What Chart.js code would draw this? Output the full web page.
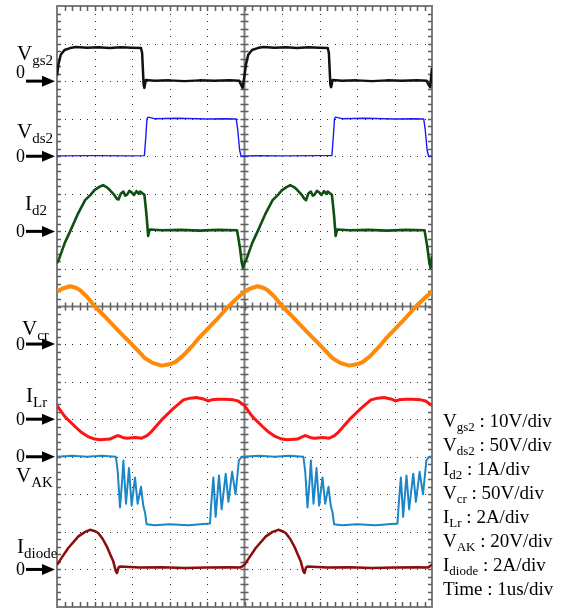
<!DOCTYPE html>
<html>
<head>
<meta charset="utf-8">
<script src="https://cdn.jsdelivr.net/npm/chart.js@4"></script>
<style>
html, body { margin: 0; padding: 0; background: #fff; }
</style>
</head>
<body>
<canvas id="scope" width="568" height="610"></canvas>
<script>
// captured waveforms: [time (us), value in channel unit]
const vgs2 = [[0,1.5],[0.04,4.5],[0.1,7],[0.2,8.3],[0.35,8.8],[0.5,9.1],[0.8,8.9],[1.1,9.0],[1.4,8.8],[1.7,9.0],[2.0,8.9],[2.24,8.8],[2.27,7.5],[2.31,-1.0],[2.33,-1.8],[2.37,0.3],[2.6,0.1],[3.0,0.2],[3.4,0.0],[3.8,0.2],[4.2,0.1],[4.6,0.2],[4.86,0.1],[4.9,-0.8],[4.95,-1.8],
  [5.0,1.5],[5.04,4.5],[5.1,7],[5.2,8.3],[5.35,8.8],[5.5,9.1],[5.8,8.9],[6.1,9.0],[6.4,8.8],[6.7,9.0],[7.0,8.9],[7.22,8.8],[7.25,7.5],[7.29,-1.0],[7.31,-1.6],[7.35,0.3],[7.6,0.1],[8.0,0.2],[8.4,0.0],[8.8,0.2],[9.2,0.1],[9.6,0.2],[9.86,0.1],[9.9,-0.8],[9.95,-1.6],[10.0,3.5]];

const vds2 = [[0,0.5],[1.0,0.8],[2.0,0.5],[2.33,0.8],[2.36,20],[2.40,50],[2.43,52],[2.6,50],[3.2,50.5],[4.0,49.5],[4.5,50],[4.78,49.5],[4.82,35],[4.87,8],[4.91,0],
  [5.3,0.8],[6.0,0.5],[7.0,0.8],[7.33,0.8],[7.36,20],[7.40,50],[7.43,52],[7.6,50],[8.2,50.5],[9.0,49.5],[9.5,50],[9.78,49.5],[9.82,35],[9.87,8],[9.91,0],[10,0]];

const id2 = [[0,-0.85],[0.06,-0.72],[0.21,-0.3],[0.35,0],[0.55,0.45],[0.75,0.83],[0.9,0.98],[1.0,1.1],[1.12,1.18],[1.23,1.23],[1.32,1.18],[1.41,1.1],[1.52,0.98],[1.6,0.86],[1.64,0.85],[1.7,1.0],[1.77,1.06],[1.82,0.95],[1.87,0.98],[1.93,1.08],[1.99,1.04],[2.05,0.97],[2.12,1.07],[2.18,1.0],[2.22,1.06],[2.28,1.01],[2.33,0.98],[2.36,0.7],[2.39,0.4],[2.43,-0.12],[2.47,0.05],[2.8,0.03],[3.3,0.04],[3.8,0.02],[4.3,0.04],[4.8,0.03],[4.84,-0.2],[4.88,-0.45],[4.93,-0.85],[4.96,-0.97],
  [5.0,-0.85],[5.06,-0.72],[5.21,-0.3],[5.35,0],[5.55,0.45],[5.75,0.83],[5.9,0.98],[6.0,1.1],[6.12,1.18],[6.22,1.23],[6.32,1.18],[6.41,1.1],[6.52,0.98],[6.6,0.86],[6.64,0.83],[6.7,1.0],[6.77,1.06],[6.82,0.95],[6.87,0.98],[6.93,1.08],[6.99,1.04],[7.05,0.97],[7.12,1.07],[7.18,1.0],[7.22,1.06],[7.28,1.01],[7.33,0.98],[7.36,0.7],[7.39,0.4],[7.43,-0.12],[7.47,0.05],[7.8,0.03],[8.3,0.04],[8.8,0.02],[9.3,0.04],[9.8,0.03],[9.84,-0.2],[9.88,-0.45],[9.93,-0.85],[9.96,-0.97],[10,-0.65]];

const vcr = [[0,70],[0.15,74],[0.35,77],[0.5,75],[0.61,72],[0.8,63],[1.01,50],[1.25,38],[1.5,25],[1.75,12],[1.99,0],[2.2,-11],[2.35,-19],[2.55,-25],[2.79,-28.7],[3.0,-27],[3.15,-24],[3.35,-16],[3.59,-3.5],[3.8,9],[4.03,21],[4.3,35],[4.57,50],[4.8,61],
  [5.0,70],[5.15,74],[5.35,77],[5.5,75],[5.61,72],[5.8,63],[6.01,50],[6.25,38],[6.5,25],[6.75,12],[6.99,0],[7.2,-11],[7.35,-19],[7.55,-25],[7.79,-28.7],[8.0,-27],[8.15,-24],[8.35,-16],[8.59,-3.5],[8.8,9],[9.03,21],[9.3,35],[9.57,50],[9.8,61],[10,70]];

const ilr = [[0,0.72],[0.21,0.14],[0.48,-0.39],[0.65,-0.7],[0.83,-0.93],[1.0,-1.06],[1.15,-1.1],[1.41,-1.06],[1.55,-0.93],[1.63,-0.87],[1.75,-0.97],[1.86,-1.01],[2.1,-0.98],[2.26,-1.01],[2.4,-0.88],[2.52,-0.66],[2.79,-0.04],[3.06,0.49],[3.37,1.03],[3.55,1.12],[3.72,1.15],[3.9,1.08],[4.03,0.97],[4.12,1.03],[4.3,1.06],[4.48,1.06],[4.7,1.03],[4.83,0.97],
  [5.0,0.72],[5.21,0.14],[5.48,-0.39],[5.65,-0.7],[5.83,-0.93],[6.0,-1.06],[6.15,-1.1],[6.41,-1.06],[6.55,-0.93],[6.63,-0.87],[6.75,-0.97],[6.86,-1.01],[7.1,-0.98],[7.26,-1.01],[7.4,-0.88],[7.52,-0.66],[7.79,-0.04],[8.06,0.49],[8.37,1.03],[8.55,1.12],[8.72,1.15],[8.9,1.08],[9.03,0.97],[9.12,1.03],[9.3,1.06],[9.48,1.06],[9.7,1.03],[9.83,0.97],[10,0.72]];

const vak = [[0,0],[0.4,0.5],[0.8,0],[1.2,0.5],[1.57,0],[1.62,-8],[1.68,-27],[1.74,-12],[1.77,-2],[1.84,-25],[1.92,-6],[1.99,-26],[2.08,-11],[2.15,-25],[2.24,-16],[2.30,-26],[2.35,-30],[2.39,-36],[2.6,-36.5],[3.0,-36],[3.5,-36.5],[4.08,-35.5],[4.11,-26],[4.17,-11],[4.23,-32],[4.32,-10],[4.39,-28],[4.50,-9],[4.57,-24],[4.67,-8],[4.76,-20],[4.85,-2],[4.92,0],
  [5.4,0.5],[5.8,0],[6.2,0.5],[6.57,0],[6.62,-8],[6.68,-27],[6.74,-12],[6.77,-2],[6.84,-25],[6.92,-6],[6.99,-26],[7.08,-11],[7.15,-25],[7.24,-16],[7.30,-26],[7.35,-30],[7.39,-36],[7.6,-36.5],[8.0,-36],[8.5,-36.5],[9.08,-35.5],[9.11,-26],[9.17,-11],[9.23,-32],[9.32,-10],[9.39,-28],[9.50,-9],[9.57,-24],[9.67,-8],[9.76,-20],[9.85,-2],[9.92,0],[10,0]];

const idiode = [[0,0.25],[0.1,0.55],[0.3,1.14],[0.57,1.76],[0.75,2.0],[0.88,2.11],[1.0,2.05],[1.1,1.94],[1.22,1.62],[1.33,1.22],[1.42,0.8],[1.5,0.43],[1.57,-0.1],[1.6,-0.19],[1.64,0.1],[1.68,0.16],[2.2,0.1],[2.8,0.12],[3.4,0.08],[4.0,0.1],[4.6,0.12],[4.88,0.1],[4.95,0.18],
  [5.0,0.25],[5.1,0.55],[5.3,1.14],[5.57,1.76],[5.75,2.0],[5.9,2.11],[6.0,2.05],[6.1,1.94],[6.22,1.62],[6.33,1.22],[6.42,0.8],[6.5,0.43],[6.57,-0.1],[6.6,-0.19],[6.64,0.1],[6.68,0.16],[7.2,0.1],[7.8,0.12],[8.4,0.08],[9.0,0.1],[9.6,0.12],[9.88,0.1],[9.95,0.18],[10,0.25]];

const channelNames = ['V', 'V', 'I', 'V', 'I', 'V', 'I'];
const channelSubs = ['gs2', 'ds2', 'd2', 'cr', 'Lr', 'AK', 'diode'];
const unitsPerDiv = [10, 50, 1, 50, 2, 20, 2];
const channelUnits = ['V', 'V', 'A', 'V', 'A', 'V', 'A'];
const zeroDiv = [2, 4, 6, 9, 11, 12, 15]; // zero level, divisions below the top edge
const timePerDiv = '1us/div';

const channels = [vgs2, vds2, id2, vcr, ilr, vak, idiode];
const traceColors = ['#111111', '#1a1af2', '#0f4f12', '#ff8a0a', '#ff1414', '#1c86c6', '#8a0c0c'];
const traceWidths = [2.5, 1.4, 2.6, 4, 3, 2, 2.5];

const X_DIVS = 10, Y_DIVS = 16;

// label placement on the left: letter x / baseline, offset of the "0" from the marker
const leftLabels = [
  {x: 17, y: 60, zeroDy: -9},
  {x: 17, y: 138, zeroDy: 0},
  {x: 25, y: 210, zeroDy: 0},
  {x: 22, y: 335, zeroDy: 0},
  {x: 26, y: 402, zeroDy: 0},
  {x: 16, y: 482, zeroDy: 0},
  {x: 17, y: 553, zeroDy: 0}
];

const scales = {
  x: {type: 'linear', axis: 'x', position: 'bottom', min: 0, max: X_DIVS, display: false},
  div: {type: 'linear', axis: 'y', position: 'left', min: 0, max: Y_DIVS, reverse: true, display: false}
};
channels.forEach((c, i) => {
  scales['ch' + i] = {
    type: 'linear',
    axis: 'y',
    position: 'left',
    display: false,
    min: -(Y_DIVS - zeroDiv[i]) * unitsPerDiv[i],
    max: zeroDiv[i] * unitsPerDiv[i]
  };
});

const datasets = channels.map((c, i) => ({
  label: channelNames[i] + channelSubs[i],
  data: c.map(p => ({x: p[0], y: p[1]})),
  yAxisID: 'ch' + i,
  borderColor: traceColors[i],
  borderWidth: traceWidths[i],
  pointRadius: 0,
  tension: 0,
  borderJoinStyle: 'round',
  fill: false
}));

// graticule: dotted divisions, frame and centre cross with minor ticks
const graticule = {
  id: 'graticule',
  beforeDatasetsDraw(chart) {
    const {ctx, chartArea: a} = chart;
    const sx = chart.scales.x, sy = chart.scales.div;
    ctx.save();
    ctx.fillStyle = '#2a2a2a';
    for (let i = 1; i < X_DIVS; i++) {
      if (i === X_DIVS / 2) continue;
      const px = Math.round(sx.getPixelForValue(i));
      for (let j = 1; j < Y_DIVS * 5; j++) {
        ctx.fillRect(px, Math.round(sy.getPixelForValue(j / 5)), 1, 1);
      }
    }
    for (let j = 1; j < Y_DIVS; j++) {
      if (j === Y_DIVS / 2) continue;
      const py = Math.round(sy.getPixelForValue(j));
      for (let i = 1; i < X_DIVS * 5; i++) {
        ctx.fillRect(Math.round(sx.getPixelForValue(i / 5)), py, 1, 1);
      }
    }

    const cx = sx.getPixelForValue(X_DIVS / 2);
    const cy = sy.getPixelForValue(Y_DIVS / 2);
    ctx.strokeStyle = '#7d7d7d';
    ctx.lineWidth = 2;
    ctx.strokeRect(a.left, a.top, a.right - a.left, a.bottom - a.top);
    ctx.beginPath();
    ctx.moveTo(cx, a.top); ctx.lineTo(cx, a.bottom);
    ctx.moveTo(a.left, cy); ctx.lineTo(a.right, cy);
    ctx.stroke();

    ctx.strokeStyle = '#5e5e5e';
    ctx.lineWidth = 1.5;
    ctx.beginPath();
    for (let i = 1; i < X_DIVS * 5; i++) {
      const px = Math.round(sx.getPixelForValue(i / 5)) + 0.5;
      ctx.moveTo(px, a.top); ctx.lineTo(px, a.top + 5);
      ctx.moveTo(px, a.bottom); ctx.lineTo(px, a.bottom - 5);
      ctx.moveTo(px, cy - 4); ctx.lineTo(px, cy + 4);
    }
    for (let j = 1; j < Y_DIVS * 5; j++) {
      const py = Math.round(sy.getPixelForValue(j / 5)) + 0.5;
      ctx.moveTo(a.left, py); ctx.lineTo(a.left + 4, py);
      ctx.moveTo(a.right, py); ctx.lineTo(a.right - 4, py);
      ctx.moveTo(cx - 4, py); ctx.lineTo(cx + 4, py);
    }
    ctx.stroke();
    ctx.restore();
  }
};

function drawSubscripted(ctx, x, y, main, sub, rest, size, subSize, subDrop) {
  ctx.font = size + 'px "Liberation Serif"';
  ctx.fillText(main, x, y);
  x += ctx.measureText(main).width;
  ctx.font = subSize + 'px "Liberation Serif"';
  ctx.fillText(sub, x, y + subDrop);
  x += ctx.measureText(sub).width;
  if (rest) {
    ctx.font = size + 'px "Liberation Serif"';
    ctx.fillText(rest, x, y);
  }
}

// channel names, zero markers and the scale legend
const channelLabels = {
  id: 'channelLabels',
  afterDraw(chart) {
    const ctx = chart.ctx;
    ctx.save();
    ctx.fillStyle = '#000';
    ctx.textBaseline = 'alphabetic';
    channels.forEach((c, i) => {
      const lab = leftLabels[i];
      drawSubscripted(ctx, lab.x, lab.y, channelNames[i], channelSubs[i], '', 21, 15, 5);

      const zy = chart.scales['ch' + i].getPixelForValue(0);
      ctx.font = '18px "Liberation Serif"';
      ctx.textBaseline = 'middle';
      ctx.fillText('0', 16, zy + lab.zeroDy + 1);
      ctx.textBaseline = 'alphabetic';

      // arrow pointing at the zero level
      const tip = chart.chartArea.left - 2;
      ctx.fillRect(26, zy - 1.5, tip - 11 - 26, 3);
      ctx.beginPath();
      ctx.moveTo(tip, zy);
      ctx.lineTo(tip - 13, zy - 5.5);
      ctx.lineTo(tip - 13, zy + 5.5);
      ctx.closePath();
      ctx.fill();
    });

    let y = 427;
    channels.forEach((c, i) => {
      drawSubscripted(ctx, 443, y, channelNames[i], channelSubs[i],
        ' : ' + unitsPerDiv[i] + channelUnits[i] + '/div', 19, 13, 4);
      y += 24;
    });
    ctx.font = '19px "Liberation Serif"';
    ctx.fillText('Time : ' + timePerDiv, 443, y);
    ctx.restore();
  }
};

new Chart(document.getElementById('scope'), {
  type: 'line',
  data: {datasets: datasets},
  options: {
    responsive: false,
    animation: false,
    devicePixelRatio: 1,
    layout: {padding: {left: 57, right: 136, top: 6, bottom: 3}},
    plugins: {legend: {display: false}, tooltip: {enabled: false}},
    scales: scales
  },
  plugins: [graticule, channelLabels]
});
</script>
</body>
</html>
